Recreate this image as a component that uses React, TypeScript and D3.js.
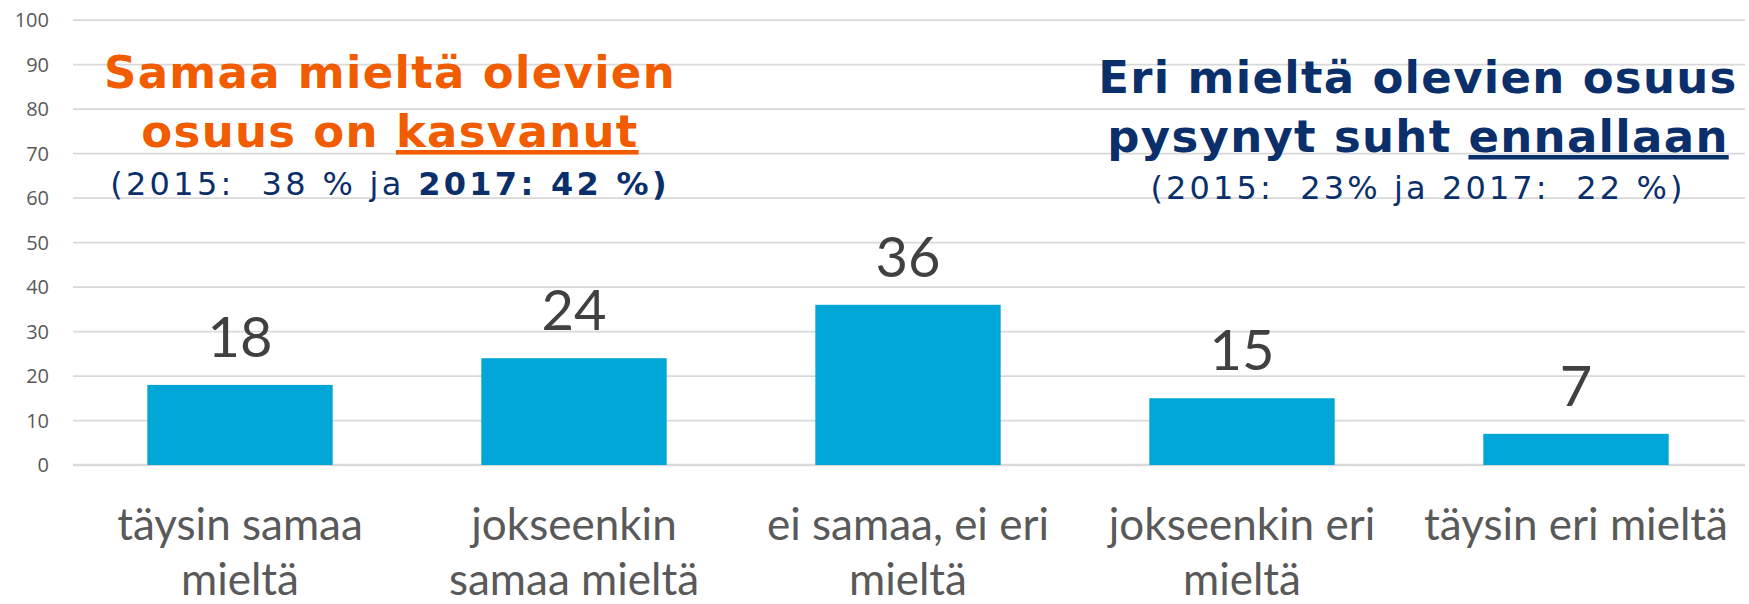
import { useEffect, useRef } from 'react'
import * as d3 from 'd3'

const categories = [
  ['täysin samaa', 'mieltä'],
  ['jokseenkin', 'samaa mieltä'],
  ['ei samaa, ei eri', 'mieltä'],
  ['jokseenkin eri', 'mieltä'],
  ['täysin eri mieltä'],
]
const values = [18, 24, 36, 15, 7]
const yTicks = [0, 10, 20, 30, 40, 50, 60, 70, 80, 90, 100]

const leftNote = ['Samaa mieltä olevien', 'osuus on ', 'kasvanut']
const leftSub = ['(2015:  38 % ja ', '2017: 42 %)']
const rightNote = ['Eri mieltä olevien osuus', 'pysynyt suht ', 'ennallaan']
const rightSub = '(2015:  23% ja 2017:  22 %)'

const width = 1749
const height = 604
const BAR = '#00a6d6'
const GRID = '#d9d9d9'
const ORANGE = '#f25c00'
const NAVY = '#0b2f6a'

export default function App() {
  const ref = useRef<SVGSVGElement>(null)

  useEffect(() => {
    const svg = d3.select(ref.current)
    svg.selectAll('*').remove()

    const x = d3
      .scaleBand()
      .domain(categories.map((c, i) => String(i)))
      .range([73, 1743])
      .paddingInner(0.445)
      .paddingOuter(0.2225)
    const y = d3.scaleLinear().domain([0, 100]).range([465, 20])

    // grid
    svg
      .append('g')
      .selectAll('line')
      .data(yTicks)
      .join('line')
      .attr('x1', 73)
      .attr('x2', 1745)
      .attr('y1', (d) => y(d))
      .attr('y2', (d) => y(d))
      .attr('stroke', GRID)
      .attr('stroke-width', (d) => (d === 0 ? 2.5 : 1.75))

    svg
      .append('g')
      .selectAll('text')
      .data(yTicks)
      .join('text')
      .attr('x', 49)
      .attr('y', (d) => y(d))
      .attr('dy', '0.36em')
      .attr('text-anchor', 'end')
      .attr('font-family', 'Open Sans')
      .attr('font-size', 20)
      .attr('fill', '#595959')
      .text((d) => d)

    // bars
    svg
      .append('g')
      .selectAll('rect')
      .data(values)
      .join('rect')
      .attr('x', (d, i) => x(String(i))!)
      .attr('width', x.bandwidth())
      .attr('y', (d) => y(d))
      .attr('height', (d) => y(0) - y(d))
      .attr('fill', BAR)

    svg
      .append('g')
      .selectAll('text')
      .data(values)
      .join('text')
      .attr('x', (d, i) => x(String(i))! + x.bandwidth() / 2)
      .attr('y', (d) => y(d) - 28)
      .attr('text-anchor', 'middle')
      .attr('font-family', 'Lato')
      .attr('font-size', 56)
      .attr('fill', '#404040')
      .text((d) => d)

    // category labels
    const cat = svg
      .append('g')
      .selectAll('text')
      .data(categories)
      .join('text')
      .attr('x', (d, i) => x(String(i))! + x.bandwidth() / 2)
      .attr('y', 540)
      .attr('text-anchor', 'middle')
      .attr('font-family', 'Lato')
      .attr('font-size', 44)
      .attr('fill', '#595959')
    cat
      .selectAll('tspan')
      .data((d) => d)
      .join('tspan')
      .attr('x', function () {
        return (this.parentNode as SVGTextElement).getAttribute('x')
      })
      .attr('dy', (d, i) => (i === 0 ? 0 : 55))
      .text((d) => d)

    // annotations
    const head = (cx: number, y0: number, lines: string[], color: string) => {
      const g = svg
        .append('g')
        .attr('font-family', 'DejaVu Sans')
        .attr('font-weight', 'bold')
        .attr('font-size', 45)
        .attr('letter-spacing', 1.3)
        .attr('fill', color)
        .attr('text-anchor', 'middle')
      g.append('text').attr('x', cx).attr('y', y0).text(lines[0])
      const t2 = g.append('text').attr('x', cx).attr('y', y0 + 59)
      t2.append('tspan').text(lines[1])
      t2.append('tspan').style('text-decoration', 'underline').text(lines[2])
    }
    head(390, 88, leftNote, ORANGE)
    head(1418, 93, rightNote, NAVY)

    const sub = svg
      .append('text')
      .attr('x', 390)
      .attr('y', 195)
      .attr('text-anchor', 'middle')
      .attr('font-family', 'DejaVu Sans')
      .attr('font-size', 32)
      .attr('letter-spacing', 3.3)
      .attr('fill', NAVY)
      .style('white-space', 'pre')
    sub.append('tspan').text(leftSub[0])
    sub.append('tspan').attr('font-weight', 'bold').text(leftSub[1])

    svg
      .append('text')
      .attr('x', 1418)
      .attr('y', 199)
      .attr('text-anchor', 'middle')
      .attr('font-family', 'DejaVu Sans')
      .attr('font-size', 32)
      .attr('letter-spacing', 3.1)
      .attr('fill', NAVY)
      .style('white-space', 'pre')
      .text(rightSub)
  }, [])

  return (
    <svg
      ref={ref}
      width={width}
      height={height}
      style={{ position: 'absolute', left: 0, top: 0, background: '#fff' }}
    />
  )
}
